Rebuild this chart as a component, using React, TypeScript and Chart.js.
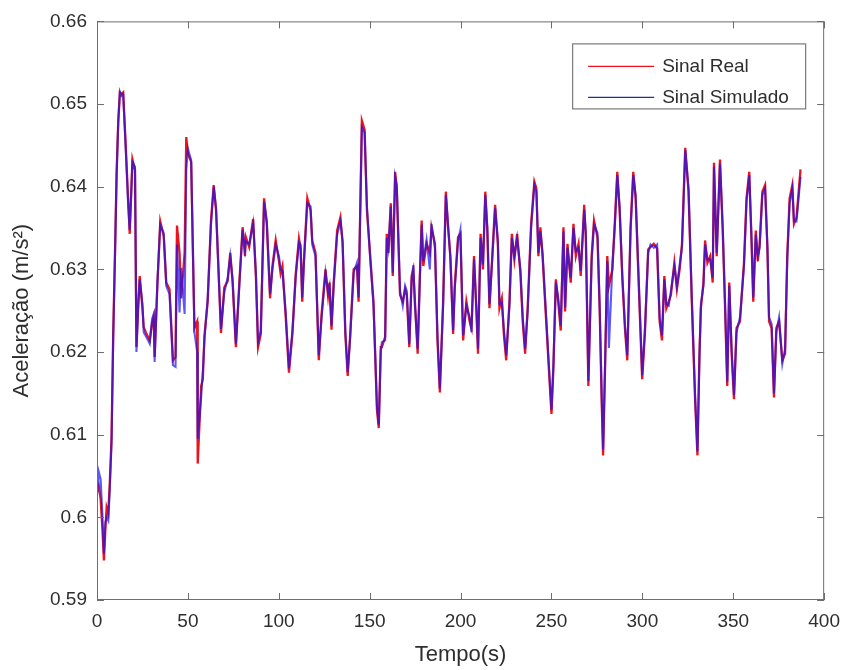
import React, { useEffect, useRef } from "react";
import { Chart, registerables } from "chart.js";

Chart.register(...registerables);

const TIME: number[] = [
  0, 1, 2, 3, 3.8, 4.6, 5.3, 6.2, 7, 8,
  8.9, 9.9, 10.8, 11.7, 12.6, 13.5, 14.4, 15.8, 17.1, 18,
  19.5, 20.9, 21.7, 22.6, 23.5, 25, 25.7, 27.2, 29, 30.3,
  31.2, 31.7, 33.2, 34.8, 36.7, 38.1, 39.9, 41.8, 43.2, 44,
  45.4, 46.3, 48.2, 49.1, 50, 51.8, 53.6, 55.1, 55.4, 57.3,
  58.2, 59.1, 60.9, 62.7, 64.2, 65.5, 66.4, 68.2, 70, 71.9,
  73.3, 74.6, 76.4, 78.3, 80.1, 81.4, 81.9, 83.7, 85.9, 87.4,
  88.6, 90.1, 91.9, 93.4, 95.2, 96.5, 98.3, 100.1, 101, 102,
  103.8, 105.6, 107.5, 109.3, 111.1, 112, 112.9, 113.8, 115.7, 117.5,
  118.4, 120.2, 122, 123.5, 125.7, 127.1, 127.9, 129, 130.2, 132.1,
  133.9, 135.1, 136.6, 137.9, 139.3, 141.2, 143, 143.9, 145.7, 147.2,
  148.5, 150.3, 152.1, 154, 155, 156.1, 156.7, 158.5, 159.4, 160.3,
  161.6, 162.7, 164, 164.9, 166.7, 168.2, 169.5, 170.4, 171.8, 173.1,
  174, 174.9, 176.4, 177.6, 178.6, 179.5, 181.3, 183.1, 184, 185.9,
  187.3, 188.6, 190.4, 191.9, 193.1, 194.4, 195.9, 196.8, 198.6, 199.9,
  201.4, 203.2, 205, 206, 207.4, 208.7, 209.6, 211, 212.3, 213.6,
  214.7, 215.9, 217.8, 219, 220.5, 221.4, 222.7, 223.8, 225.1, 226.9,
  228.2, 229.6, 231.1, 232.9, 234.2, 235.5, 236.9, 238.8, 240.6, 241.7,
  242.8, 243.9, 245.1, 247, 248.8, 250, 251.1, 252.4, 253.7, 255.1,
  256.6, 257.5, 258.8, 260.6, 262.1, 263.4, 264.9, 266.1, 268, 268.9,
  270.3, 272.1, 273.4, 275.3, 276.5, 277.6, 278.4, 279.5, 280.7, 281.6,
  283.5, 284.9, 286.2, 287.5, 289, 290.4, 291.7, 293.5, 295, 296.3,
  297.7, 299, 299.9, 301.4, 303.2, 304.5, 306.3, 308.1, 309.5, 310.8,
  312.1, 313.2, 314.5, 315.7, 317.6, 319, 320.5, 321.8, 323.6, 325.4,
  327.2, 329, 330.3, 331.4, 332.2, 333.6, 334.5, 335.8, 337.3, 338.7,
  339.4, 340.9, 342.7, 344.2, 345.4, 346.7, 347.8, 349.1, 350.4, 351.8,
  353.7, 355.9, 357.3, 358.8, 360.1, 361, 362.4, 363.5, 364.5, 366,
  367.5, 368.8, 369.7, 371.1, 372.4, 373.7, 375.2, 377, 378.5, 379.7,
  381, 382.5, 383.4, 384.8, 387,
];

const SINAL_REAL: number[] = [
  0.6030, 0.6038, 0.6022, 0.5985, 0.5948, 0.5985, 0.6012, 0.6005, 0.6040, 0.6096,
  0.6220, 0.6320, 0.6418, 0.6480, 0.6514, 0.6512, 0.6514, 0.6450, 0.6386, 0.6343,
  0.6433, 0.6420, 0.6206, 0.6250, 0.6292, 0.6253, 0.6230, 0.6222, 0.6214, 0.6235,
  0.6243, 0.6194, 0.6280, 0.6358, 0.6340, 0.6284, 0.6276, 0.6190, 0.6194, 0.6353,
  0.6320, 0.6265, 0.6320, 0.6460, 0.6440, 0.6430, 0.6229, 0.6237, 0.6065, 0.6159,
  0.6167, 0.6220, 0.6261, 0.6359, 0.6402, 0.6371, 0.6325, 0.6223, 0.6278, 0.6286,
  0.6320, 0.6284, 0.6206, 0.6284, 0.6351, 0.6316, 0.6339, 0.6327, 0.6361, 0.6292,
  0.6206, 0.6222, 0.6386, 0.6355, 0.6265, 0.6304, 0.6335, 0.6310, 0.6295, 0.6304,
  0.6243, 0.6175, 0.6222, 0.6294, 0.6337, 0.6325, 0.6261, 0.6310, 0.6386, 0.6371,
  0.6335, 0.6320, 0.6190, 0.6245, 0.6300, 0.6268, 0.6284, 0.6227, 0.6284, 0.6347,
  0.6363, 0.6331, 0.6222, 0.6171, 0.6222, 0.6300, 0.6304, 0.6261, 0.6480, 0.6469,
  0.6371, 0.6316, 0.6261, 0.6130, 0.6108, 0.6206, 0.6206, 0.6218, 0.6343, 0.6320,
  0.6380, 0.6292, 0.6418, 0.6398, 0.6269, 0.6261, 0.6276, 0.6269, 0.6206, 0.6292,
  0.6300, 0.6261, 0.6198, 0.6292, 0.6359, 0.6304, 0.6331, 0.6320, 0.6351, 0.6331,
  0.6214, 0.6151, 0.6261, 0.6394, 0.6351, 0.6316, 0.6222, 0.6280, 0.6339, 0.6343,
  0.6214, 0.6261, 0.6237, 0.6229, 0.6316, 0.6249, 0.6198, 0.6343, 0.6300, 0.6394,
  0.6347, 0.6253, 0.6331, 0.6378, 0.6331, 0.6253, 0.6265, 0.6222, 0.6190, 0.6261,
  0.6343, 0.6312, 0.6343, 0.6296, 0.6237, 0.6198, 0.6253, 0.6355, 0.6406, 0.6398,
  0.6316, 0.6351, 0.6316, 0.6241, 0.6171, 0.6125, 0.6182, 0.6288, 0.6261, 0.6226,
  0.6351, 0.6249, 0.6331, 0.6284, 0.6355, 0.6316, 0.6331, 0.6292, 0.6378, 0.6339,
  0.6159, 0.6316, 0.6359, 0.6339, 0.6253, 0.6143, 0.6075, 0.6182, 0.6316, 0.6280,
  0.6300, 0.6359, 0.6418, 0.6371, 0.6288, 0.6229, 0.6190, 0.6351, 0.6418, 0.6386,
  0.6300, 0.6222, 0.6167, 0.6222, 0.6324, 0.6327, 0.6331, 0.6325, 0.6237, 0.6214,
  0.6292, 0.6253, 0.6261, 0.6269, 0.6308, 0.6276, 0.6300, 0.6331, 0.6447, 0.6394,
  0.6261, 0.6143, 0.6075, 0.6198, 0.6253, 0.6284, 0.6335, 0.6308, 0.6316, 0.6284,
  0.6429, 0.6316, 0.6433, 0.6347, 0.6261, 0.6159, 0.6284, 0.6198, 0.6143, 0.6229,
  0.6237, 0.6308, 0.6386, 0.6418, 0.6330, 0.6261, 0.6347, 0.6310, 0.6330, 0.6394,
  0.6402, 0.6324, 0.6237, 0.6229, 0.6145, 0.6229, 0.6237, 0.6190, 0.6198, 0.6316,
  0.6386, 0.6402, 0.6355, 0.6363, 0.6421,
];

const SINAL_SIMULADO: number[] = [
  0.6026, 0.6055, 0.6046, 0.6002, 0.5956, 0.5994, 0.6000, 0.5996, 0.6032, 0.6090,
  0.6214, 0.6316, 0.6414, 0.6478, 0.6515, 0.6510, 0.6512, 0.6446, 0.6380, 0.6348,
  0.6430, 0.6424, 0.6200, 0.6255, 0.6288, 0.6258, 0.6224, 0.6218, 0.6210, 0.6240,
  0.6246, 0.6188, 0.6284, 0.6354, 0.6344, 0.6280, 0.6270, 0.6184, 0.6182, 0.6330,
  0.6248, 0.6302, 0.6246, 0.6420, 0.6446, 0.6432, 0.6224, 0.6200, 0.6095, 0.6146,
  0.6176, 0.6214, 0.6266, 0.6354, 0.6400, 0.6374, 0.6320, 0.6228, 0.6272, 0.6290,
  0.6316, 0.6288, 0.6210, 0.6280, 0.6348, 0.6324, 0.6334, 0.6330, 0.6356, 0.6296,
  0.6212, 0.6226, 0.6382, 0.6358, 0.6270, 0.6300, 0.6330, 0.6316, 0.6300, 0.6298,
  0.6248, 0.6180, 0.6226, 0.6290, 0.6333, 0.6330, 0.6266, 0.6306, 0.6380, 0.6376,
  0.6330, 0.6316, 0.6196, 0.6240, 0.6296, 0.6272, 0.6280, 0.6232, 0.6280, 0.6342,
  0.6358, 0.6335, 0.6226, 0.6176, 0.6218, 0.6296, 0.6308, 0.6266, 0.6472, 0.6466,
  0.6376, 0.6312, 0.6256, 0.6135, 0.6112, 0.6200, 0.6212, 0.6214, 0.6338, 0.6325,
  0.6376, 0.6296, 0.6412, 0.6402, 0.6274, 0.6256, 0.6280, 0.6274, 0.6210, 0.6288,
  0.6305, 0.6256, 0.6204, 0.6288, 0.6354, 0.6310, 0.6336, 0.6300, 0.6355, 0.6326,
  0.6220, 0.6156, 0.6256, 0.6390, 0.6356, 0.6312, 0.6226, 0.6276, 0.6334, 0.6348,
  0.6220, 0.6256, 0.6242, 0.6224, 0.6312, 0.6254, 0.6204, 0.6338, 0.6306, 0.6390,
  0.6352, 0.6258, 0.6326, 0.6374, 0.6336, 0.6258, 0.6260, 0.6228, 0.6196, 0.6256,
  0.6338, 0.6316, 0.6338, 0.6300, 0.6242, 0.6204, 0.6248, 0.6350, 0.6402, 0.6394,
  0.6320, 0.6346, 0.6320, 0.6246, 0.6176, 0.6130, 0.6188, 0.6284, 0.6266, 0.6232,
  0.6346, 0.6254, 0.6326, 0.6290, 0.6350, 0.6322, 0.6326, 0.6298, 0.6372, 0.6344,
  0.6165, 0.6310, 0.6354, 0.6344, 0.6258, 0.6150, 0.6082, 0.6188, 0.6310, 0.6205,
  0.6305, 0.6354, 0.6414, 0.6376, 0.6292, 0.6234, 0.6196, 0.6346, 0.6414, 0.6390,
  0.6306, 0.6228, 0.6172, 0.6228, 0.6320, 0.6330, 0.6326, 0.6330, 0.6242, 0.6220,
  0.6288, 0.6258, 0.6256, 0.6274, 0.6304, 0.6280, 0.6305, 0.6326, 0.6444, 0.6398,
  0.6266, 0.6148, 0.6080, 0.6192, 0.6258, 0.6280, 0.6330, 0.6312, 0.6312, 0.6290,
  0.6424, 0.6320, 0.6428, 0.6352, 0.6266, 0.6164, 0.6280, 0.6204, 0.6148, 0.6224,
  0.6242, 0.6304, 0.6382, 0.6414, 0.6335, 0.6266, 0.6342, 0.6316, 0.6326, 0.6390,
  0.6398, 0.6328, 0.6242, 0.6234, 0.6150, 0.6224, 0.6242, 0.6186, 0.6204, 0.6312,
  0.6380, 0.6398, 0.6358, 0.6358, 0.6412,
];

const SERIES_NAMES: string[] = ["Sinal Real", "Sinal Simulado"];
const X_TITLE = "Tempo(s)";
const Y_TITLE = "Aceleração (m/s²)";
const X_MIN = 0;
const X_MAX = 400;
const X_STEP = 50;
const Y_MIN = 0.59;
const Y_MAX = 0.66;
const Y_STEP = 0.01;

const FONT = "'Liberation Sans', Arial, Helvetica, sans-serif";
const TEXT_COLOR = "#2e2e2e";
const AXIS_COLOR = "#6e6e6e";
const RED = "rgb(235, 20, 30)";
const BLUE = "rgba(25, 20, 235, 0.7)";

const matlabFrame = {
  id: "matlabFrame",
  afterDatasetsDraw(chart: any) {
    const { ctx, chartArea, scales } = chart;
    const { left, right, top, bottom } = chartArea;
    ctx.save();
    ctx.strokeStyle = AXIS_COLOR;
    ctx.lineWidth = 1;
    ctx.strokeRect(left + 0.5, top + 0.5, right - left - 1, bottom - top - 1);
    const tl = 7;
    ctx.beginPath();
    scales.x.ticks.forEach((t: any) => {
      const px = Math.round(scales.x.getPixelForValue(t.value)) + 0.5;
      ctx.moveTo(px, bottom);
      ctx.lineTo(px, bottom - tl);
      ctx.moveTo(px, top);
      ctx.lineTo(px, top + tl);
    });
    scales.y.ticks.forEach((t: any) => {
      const py = Math.round(scales.y.getPixelForValue(t.value)) + 0.5;
      ctx.moveTo(left, py);
      ctx.lineTo(left + tl, py);
      ctx.moveTo(right, py);
      ctx.lineTo(right - tl, py);
    });
    ctx.stroke();

    const bw = 233;
    const bh = 65;
    const bx = right - 19 - bw;
    const by = top + 22;
    ctx.fillStyle = "#ffffff";
    ctx.fillRect(bx, by, bw, bh);
    ctx.strokeStyle = "#7a7a7a";
    ctx.lineWidth = 1.2;
    ctx.strokeRect(bx + 0.5, by + 0.5, bw, bh);
    const colors = [RED, "rgb(40, 40, 170)"];
    const rows = [by + 23, by + 54];
    ctx.font = `19px ${FONT}`;
    ctx.textBaseline = "middle";
    ctx.textAlign = "left";
    SERIES_NAMES.forEach((name, i) => {
      ctx.strokeStyle = colors[i];
      ctx.lineWidth = 1.3;
      ctx.beginPath();
      ctx.moveTo(bx + 16, rows[i]);
      ctx.lineTo(bx + 82, rows[i]);
      ctx.stroke();
      ctx.fillStyle = TEXT_COLOR;
      ctx.fillText(name, bx + 90, rows[i]);
    });
    ctx.restore();
  },
};

export default function App() {
  const canvasRef = useRef<HTMLCanvasElement | null>(null);

  useEffect(() => {
    document.body.style.margin = "0";
    document.body.style.overflow = "hidden";
    const canvas = canvasRef.current;
    if (!canvas) return;

    const realData = TIME.map((t, i) => ({ x: t, y: SINAL_REAL[i] }));
    const simData = TIME.map((t, i) => ({ x: t, y: SINAL_SIMULADO[i] }));

    const chart = new Chart(canvas, {
      type: "line",
      data: {
        datasets: [
          {
            label: SERIES_NAMES[0],
            data: realData,
            borderColor: RED,
            borderWidth: 2.3,
            pointRadius: 0,
            tension: 0,
            fill: false,
            order: 1,
          },
          {
            label: SERIES_NAMES[1],
            data: simData,
            borderColor: BLUE,
            borderWidth: 2.1,
            pointRadius: 0,
            tension: 0,
            fill: false,
            order: 0,
          },
        ],
      },
      options: {
        responsive: false,
        animation: false,
        devicePixelRatio: 1,
        layout: { padding: { left: 0, top: 18, right: 20, bottom: 0 } },
        plugins: {
          legend: { display: false },
          tooltip: { enabled: false },
        },
        scales: {
          x: {
            type: "linear",
            min: X_MIN,
            max: X_MAX,
            grid: { display: false, drawTicks: false },
            border: { display: false },
            ticks: {
              stepSize: X_STEP,
              color: TEXT_COLOR,
              font: { family: FONT, size: 19 },
              padding: 10,
              maxRotation: 0,
            },
            title: {
              display: true,
              text: X_TITLE,
              color: TEXT_COLOR,
              font: { family: FONT, size: 22 },
              padding: { top: 0, bottom: 2 },
            },
            afterFit: (scale: any) => {
              scale.height = 70;
            },
          },
          y: {
            type: "linear",
            min: Y_MIN,
            max: Y_MAX,
            grid: { display: false, drawTicks: false },
            border: { display: false },
            ticks: {
              stepSize: Y_STEP,
              color: TEXT_COLOR,
              font: { family: FONT, size: 19 },
              padding: 10,
              callback: (v: any) => String(parseFloat(Number(v).toFixed(2))),
            },
            title: {
              display: true,
              text: Y_TITLE,
              color: TEXT_COLOR,
              font: { family: FONT, size: 22 },
              padding: { top: 9, bottom: 0 },
            },
            afterFit: (scale: any) => {
              scale.width = 97;
            },
          },
        },
      },
      plugins: [matlabFrame],
    } as any);

    return () => chart.destroy();
  }, []);

  return (
    <div style={{ width: 850, height: 670, background: "#fff" }}>
      <canvas ref={canvasRef} width={850} height={670} style={{ display: "block" }} />
    </div>
  );
}
